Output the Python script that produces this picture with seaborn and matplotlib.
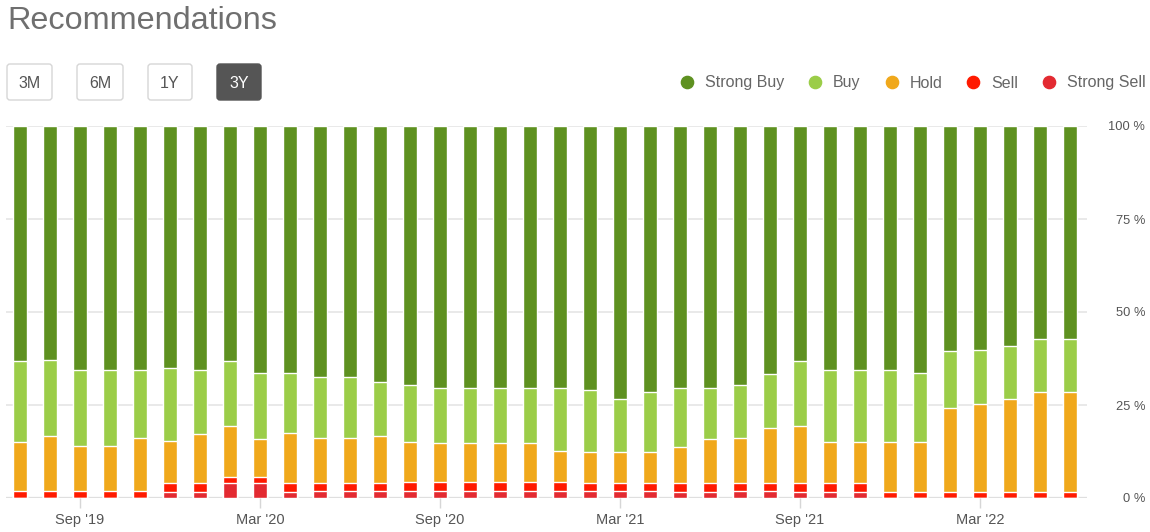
import numpy as np
import pandas as pd
import matplotlib.pyplot as plt
import seaborn as sns
from matplotlib.patches import FancyBboxPatch
from matplotlib.lines import Line2D

# ----------------------------
# 1. DATA (percent of analysts per month, Jul '19 .. Jun '22)
# ----------------------------
months = pd.date_range("2019-07-01", periods=36, freq="MS").strftime("%b '%y").tolist()

strong_sell = [0, 0, 0, 0, 0, 1.6, 1.6, 3.9, 3.9, 1.6, 2.0, 2.0,
               2.0, 2.0, 2.0, 2.0, 2.0, 2.0, 2.0, 2.0, 2.0, 2.0, 1.6, 1.6,
               2.0, 2.0, 1.6, 1.6, 1.6, 0, 0, 0, 0, 0, 0, 0]
sell = [2.0, 2.0, 2.0, 2.0, 2.0, 2.3, 2.3, 1.8, 1.8, 2.3, 1.9, 1.9,
        1.9, 2.2, 2.2, 2.2, 2.2, 2.2, 2.2, 1.9, 1.9, 1.9, 2.3, 2.3,
        1.9, 1.9, 2.3, 2.3, 2.3, 1.6, 1.6, 1.6, 1.6, 1.6, 1.6, 1.6]
hold = [13.0, 14.6, 12.0, 12.0, 14.2, 11.5, 13.4, 13.7, 10.2, 13.7, 12.3, 12.3,
        12.7, 10.9, 10.5, 10.5, 10.5, 10.5, 8.4, 8.4, 8.4, 8.4, 9.8, 12.0,
        12.3, 14.8, 15.5, 11.2, 11.2, 13.5, 13.5, 22.6, 23.7, 25.0, 26.9, 26.9]
buy = [21.8, 20.6, 20.3, 20.3, 18.1, 19.6, 17.0, 17.4, 17.7, 16.1, 16.4, 16.4,
       14.5, 15.3, 14.9, 14.9, 14.9, 14.9, 17.0, 16.6, 14.3, 16.2, 15.9, 13.7,
       14.2, 14.6, 17.4, 19.2, 19.2, 19.2, 18.4, 15.2, 14.5, 14.3, 14.2, 14.2]
strong_buy = [63.2, 62.8, 65.7, 65.7, 65.7, 65.0, 65.7, 63.2, 66.4, 66.3, 67.4, 67.4,
              68.9, 69.6, 70.4, 70.4, 70.4, 70.4, 70.4, 71.1, 73.4, 71.5, 70.4, 70.4,
              69.6, 66.7, 63.2, 65.7, 65.7, 65.7, 66.5, 60.6, 60.2, 59.1, 57.3, 57.3]

categories = ["Strong Buy", "Buy", "Hold", "Sell", "Strong Sell"]
colors = ["#5e9120", "#9bcd48", "#f0a81b", "#ff1a00", "#e32a31"]

tick_labels = ["Sep '19", "Mar '20", "Sep '20", "Mar '21", "Sep '21", "Mar '22"]
buttons = ["3M", "6M", "1Y", "3Y"]

df = pd.DataFrame({
    "month": months,
    "Strong Sell": strong_sell,
    "Sell": sell,
    "Hold": hold,
    "Buy": buy,
    "Strong Buy": strong_buy,
})

# cumulative tops, bottom-up
order_up = ["Strong Sell", "Sell", "Hold", "Buy", "Strong Buy"]
cum = df[order_up].cumsum(axis=1)

# ----------------------------
# 2. STYLE
# ----------------------------
sns.set_style("white")
plt.rcParams["font.family"] = ["Liberation Sans", "DejaVu Sans"]

fig = plt.figure(figsize=(11.5, 5.32), dpi=100)

# overlay in pixel coords for header widgets
over = fig.add_axes([0, 0, 1, 1])
over.set_xlim(0, 1150)
over.set_ylim(532, 0)
over.axis("off")

over.text(7, 21, "Recommendations", fontsize=23.3, color="#6f6f6f",
          va="center", ha="left")

btn_x = [(7, 52), (77, 123), (148, 192), (217, 261)]
for (x0, x1), name in zip(btn_x, buttons):
    active = name == "3Y"
    box = FancyBboxPatch((x0, 64), x1 - x0, 36,
                         boxstyle="round,pad=0,rounding_size=3",
                         facecolor="#555555" if active else "white",
                         edgecolor="#555555" if active else "#d6d6d6",
                         linewidth=1)
    over.add_patch(box)
    over.text((x0 + x1) / 2, 83, name, fontsize=11.5,
              color="white" if active else "#555555",
              ha="center", va="center")

# ----------------------------
# 3. BARS
# ----------------------------
ax = fig.add_axes([6 / 1150, 34 / 532, 1081 / 1150, 372 / 532])
ax.set_axisbelow(True)

for cat, col in zip(categories, colors):
    plot_df = pd.DataFrame({"month": months, "top": cum[cat]})
    sns.barplot(data=plot_df, x="month", y="top", order=months, color=col,
                width=0.47, edgecolor="white", linewidth=1, saturation=1,
                errorbar=None, ax=ax)

ax.set_xlim(-0.47, 35.57)
ax.set_ylim(0, 100)
ax.set_xlabel("")
ax.set_ylabel("")

for s in ax.spines.values():
    s.set_visible(False)

ax.yaxis.tick_right()
ax.set_yticks([0, 25, 50, 75, 100])
ax.set_yticklabels(["0 %", "25 %", "50 %", "75 %", "100 %"])
ax.tick_params(axis="y", length=0, pad=41.8, labelsize=9.3, labelcolor="#555555")
for lab in ax.get_yticklabels():
    lab.set_ha("right")
ax.grid(axis="y", color="#e3e3e3", linewidth=1.1)
ax.grid(axis="x", visible=False)
ax.axhline(0, color="#d6d6d6", linewidth=1.6, zorder=0.5)

tick_pos = [months.index(t) for t in tick_labels]
ax.set_xticks(tick_pos)
ax.set_xticklabels(tick_labels)
ax.tick_params(axis="x", length=7, width=1, color="#d6d6d6", pad=4,
               labelsize=10.5, labelcolor="#555555", bottom=True)

# ----------------------------
# 4. LEGEND
# ----------------------------
handles = [Line2D([0], [0], marker="o", linestyle="", markersize=8.8,
                  markerfacecolor=c, markeredgecolor=c) for c in colors]
fig.legend(handles, categories, ncol=5, loc="center right",
           bbox_to_anchor=(1146 / 1150, 1 - 83 / 532), frameon=False,
           fontsize=11.5, labelcolor="#666666", handlelength=0.8,
           handletextpad=0.73, columnspacing=1.54, borderpad=0, borderaxespad=0)

fig.savefig("out.png", dpi=100)
